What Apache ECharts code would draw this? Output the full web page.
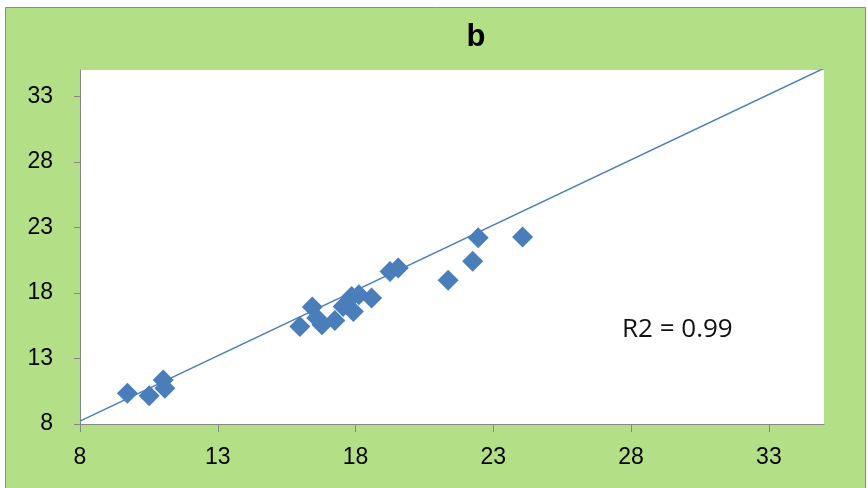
<!DOCTYPE html>
<html><head><meta charset="utf-8">
<script src="https://cdn.jsdelivr.net/npm/echarts@6/dist/echarts.min.js"></script>
<style>html,body{margin:0;padding:0;background:#fff}#c{width:867px;height:488px}</style>
</head><body><div id="c"></div>
<script>
const titleText = "b";
const annotation = "R2 = 0.99";
const xValues = [9.72,10.51,11.02,11.08,15.98,16.43,16.59,16.78,17.25,17.55,17.86,17.92,18.12,18.58,19.25,19.55,21.36,22.25,22.45,24.06];
const yValues = [10.35,10.16,11.36,10.73,15.44,16.92,16.08,15.57,15.90,16.97,17.73,16.59,17.86,17.61,19.64,19.90,18.96,20.41,22.20,22.27];
const trendX = [8, 35];
const trendY = [8.22, 35.13];
const tickValues = [8,13,18,23,28,33];

const points = xValues.map((x,i)=>[x,yValues[i]]);
const trend = trendX.map((x,i)=>[x,trendY[i]]);
const blue = '#4a7ebb';
const axisGray = '#868686';
const font = '"Liberation Sans", sans-serif';

const chart = echarts.init(document.getElementById('c'));
chart.setOption({
  animation:false,
  backgroundColor:'#fff',
  graphic:[
    {type:'rect', z:-10, shape:{x:5.5,y:7.5,width:860,height:490}, style:{fill:'#b3df86', stroke:'#8a8a8a', lineWidth:1}},
    {type:'rect', z:-5, shape:{x:80,y:70,width:744,height:354}, style:{fill:'#ffffff'}},
    {type:'text', x:622, y:330, style:{text:annotation, font:'26px "Open Sans", sans-serif', fill:'#111', verticalAlign:'middle', align:'left'}}
  ],
  title:{text:titleText, left:471, top:17, textAlign:'center',
    textStyle:{fontSize:31, fontWeight:'bold', color:'#000', fontFamily:'"Liberation Sans", sans-serif'}},
  grid:{left:80, top:70, width:744, height:354, containLabel:false},
  xAxis:{type:'value', min:8, max:35,
    axisLine:{show:true, onZero:false, lineStyle:{color:axisGray, width:1}},
    axisTick:{show:true, length:8, customValues:tickValues, lineStyle:{color:axisGray}},
    axisLabel:{customValues:tickValues, margin:22, fontSize:23, color:'#000', fontFamily:font},
    splitLine:{show:false}},
  yAxis:{type:'value', min:8, max:35,
    axisLine:{show:true, onZero:false, lineStyle:{color:axisGray, width:1}},
    axisTick:{show:true, length:6, customValues:tickValues, lineStyle:{color:axisGray}},
    axisLabel:{customValues:tickValues, margin:27, fontSize:23, color:'#000', fontFamily:font},
    splitLine:{show:false}},
  series:[
    {type:'line', data:trend, symbol:'none', clip:true, lineStyle:{color:blue, width:1.5}, z:2},
    {type:'scatter', data:points, symbol:'diamond', symbolSize:21, itemStyle:{color:blue, opacity:1}, z:3}
  ]
});
</script></body></html>
